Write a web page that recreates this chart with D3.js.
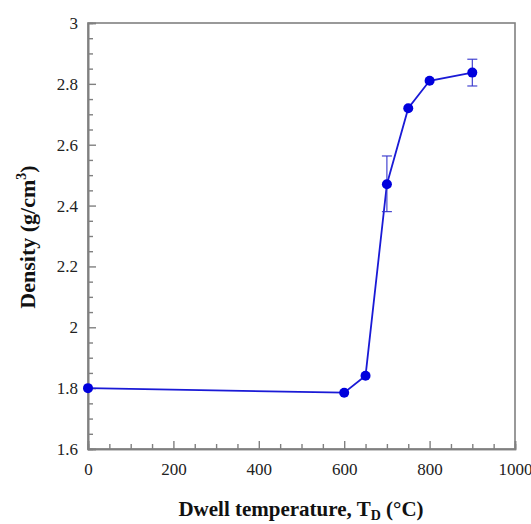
<!DOCTYPE html>
<html>
<head>
<meta charset="utf-8">
<script src="https://cdn.jsdelivr.net/npm/d3@7"></script>
<style>
  html, body { margin: 0; padding: 0; background: #fff; }
  svg { display: block; }
  text { font-family: "Liberation Serif", "Times New Roman", serif; }
</style>
</head>
<body>
<svg id="chart" width="531" height="524"></svg>
<script>
// Dwell temperature (°C) and measured density (g/cm³)
const temperatures = [0, 600, 650, 700, 750, 800, 900];
const densities = [1.80, 1.785, 1.841, 2.47, 2.72, 2.81, 2.837];
// Error bars (absolute half-widths), zero where none is drawn
const errLow = [0, 0, 0, 0.09, 0, 0, 0.044];
const errHigh = [0, 0, 0, 0.093, 0, 0, 0.044];

const xTicks = [0, 200, 400, 600, 800, 1000];
const yTicks = [1.6, 1.8, 2.0, 2.2, 2.4, 2.6, 2.8, 3.0];

const svg = d3.select("#chart");
const plotLeft = 88, plotRight = 515, plotTop = 23, plotBottom = 449;

const x = d3.scaleLinear().domain([0, 1000]).range([plotLeft, plotRight]);
const y = d3.scaleLinear().domain([1.6, 3.0]).range([plotBottom, plotTop]);

const axisColor = "#808080";
const blue = "#0000dd";

// Frame
svg.append("rect")
  .attr("x", plotLeft).attr("y", plotTop)
  .attr("width", plotRight - plotLeft).attr("height", plotBottom - plotTop)
  .attr("fill", "none").attr("stroke", axisColor).attr("stroke-width", 1.6);

// Bottom axis: inward ticks, minor every 50
const xMinor = d3.range(0, 1001, 50).filter(v => v % 200 !== 0);
const xAxis = svg.append("g").attr("transform", `translate(0,${plotBottom})`);
xAxis.call(d3.axisBottom(x).tickValues(xTicks).tickSize(-8).tickPadding(14)
  .tickFormat(d3.format("d")));
xAxis.append("g").call(d3.axisBottom(x).tickValues(xMinor).tickSize(-5).tickFormat(""));

// Left axis: inward ticks, minor every 0.05
const yMinor = d3.range(0, 29).map(i => 1.6 + i * 0.05).filter((v, i) => i % 4 !== 0);
const yAxis = svg.append("g").attr("transform", `translate(${plotLeft},0)`);
yAxis.call(d3.axisLeft(y).tickValues(yTicks).tickSize(-8).tickPadding(10)
  .tickFormat(d => d3.format("~g")(+d.toFixed(1))));
yAxis.append("g").call(d3.axisLeft(y).tickValues(yMinor).tickSize(-5).tickFormat(""));

svg.selectAll(".domain").attr("stroke", axisColor).attr("stroke-width", 1.6);
svg.selectAll(".tick line").attr("stroke", axisColor).attr("stroke-width", 1.4);
svg.selectAll(".tick text")
  .attr("fill", "#222")
  .style("font-size", "17px")
  .style("font-family", "'Liberation Serif', serif");
xAxis.selectAll(".tick text").attr("dy", "0.71em");

const pts = temperatures.map((t, i) => ({
  t, d: densities[i], lo: errLow[i], hi: errHigh[i]
}));

// Connecting line
svg.append("path")
  .datum(pts)
  .attr("fill", "none")
  .attr("stroke", "#1a1ad6")
  .attr("stroke-width", 1.8)
  .attr("d", d3.line().x(p => x(p.t)).y(p => y(p.d)));

// Error bars
const eb = svg.append("g").attr("stroke", "#3333cc").attr("stroke-width", 1.1);
pts.filter(p => p.lo > 0 || p.hi > 0).forEach(p => {
  const cx = x(p.t);
  eb.append("line").attr("x1", cx).attr("x2", cx)
    .attr("y1", y(p.d - p.lo)).attr("y2", y(p.d + p.hi));
  [p.d - p.lo, p.d + p.hi].forEach(v => {
    eb.append("line").attr("x1", cx - 5).attr("x2", cx + 5)
      .attr("y1", y(v)).attr("y2", y(v));
  });
});

// Markers
svg.append("g").selectAll("circle")
  .data(pts).join("circle")
  .attr("cx", p => x(p.t)).attr("cy", p => y(p.d))
  .attr("r", 5).attr("fill", blue);

// Axis titles
const xt = svg.append("text")
  .attr("x", 301).attr("y", 516)
  .attr("text-anchor", "middle")
  .attr("font-weight", "bold").attr("font-size", 21).attr("fill", "#111");
xt.append("tspan").text("Dwell temperature, T");
xt.append("tspan").attr("font-size", 14).attr("dy", 4).text("D");
xt.append("tspan").attr("dy", -4).text(" (°C)");

const yt = svg.append("text")
  .attr("transform", `translate(35,237) rotate(-90)`)
  .attr("text-anchor", "middle")
  .attr("font-weight", "bold").attr("font-size", 22).attr("fill", "#111");
yt.append("tspan").text("Density (g/cm");
yt.append("tspan").attr("font-size", 14).attr("dy", -9).text("3");
yt.append("tspan").attr("dy", 9).text(")");
</script>
</body>
</html>
